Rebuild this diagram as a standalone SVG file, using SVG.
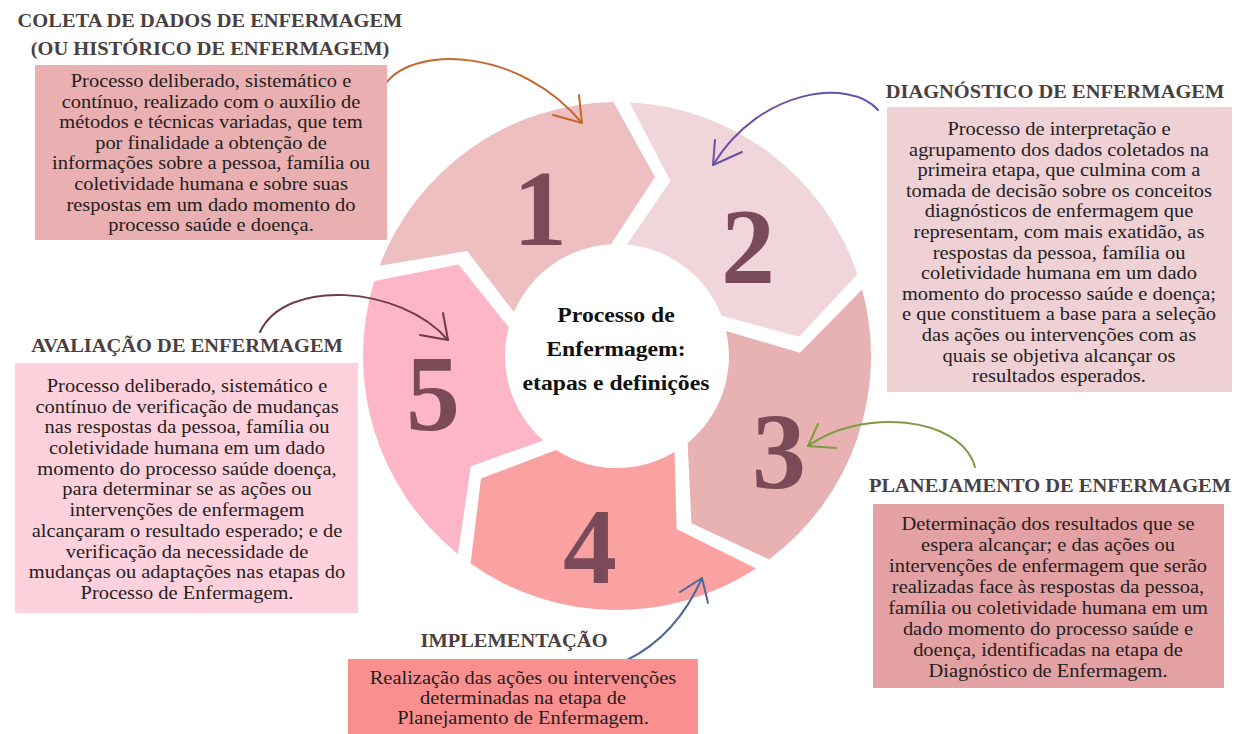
<svg xmlns="http://www.w3.org/2000/svg" width="1235" height="734" viewBox="0 0 1235 734">
<style>
.hd{font-family:"Liberation Serif","Times New Roman",serif;font-weight:bold;font-size:19px;fill:#4a403f;text-anchor:middle}
.bd{font-family:"Liberation Serif","Times New Roman",serif;font-size:19px;fill:#1e1e1e;text-anchor:middle}
.num{font-family:"Liberation Serif","Times New Roman",serif;font-weight:bold;font-size:108px;fill:#7b4a59;text-anchor:middle}
.ctr{font-family:"Liberation Serif","Times New Roman",serif;font-weight:bold;font-size:22px;fill:#111;text-anchor:middle}
.arr{fill:none;stroke-width:2;stroke-linecap:round;stroke-linejoin:round}
</style>
<defs>
<path id="seg" d="M7.98,-253.88 A254,254 0 0 1 238.98,-86.04 L181.64,-22.30 L103.78,-42.12 A112,112 0 0 0 7.99,-111.71 L50.44,-175.91 Z"/>
</defs>
<rect width="1235" height="734" fill="#ffffff"/>

<g id="wheel" transform="translate(617,356) rotate(1)">
<use id="seg1" href="#seg" transform="rotate(-72)" fill="#eebfc0"/>
<use id="seg2" href="#seg" fill="#f0d5da"/>
<use id="seg3" href="#seg" transform="rotate(72)" fill="#e8b1b2"/>
<use id="seg4" href="#seg" transform="rotate(144)" fill="#faa1a1"/>
<use id="seg5" href="#seg" transform="rotate(216)" fill="#fdb6c8"/>
</g>

<g id="numbers">
<text class="num" x="540" y="245">1</text>
<text class="num" x="748" y="283">2</text>
<text class="num" x="779" y="488">3</text>
<text class="num" x="590" y="583">4</text>
<text class="num" x="433" y="430">5</text>
</g>

<g id="center" transform="translate(616,0) scale(1.077,1)">
<text class="ctr"><tspan x="0" y="322">Processo de</tspan><tspan x="0" y="356">Enfermagem:</tspan><tspan x="0" y="390">etapas e definições</tspan></text>
</g>

<g id="connectors">
<g id="c1" stroke="#c4662e" class="arr"><path class="arr" d="M386,83 C415,45 520,48 582,123"/><path class="arr" d="M579,95 L582,123 L553,115"/></g>
<g id="c2" stroke="#6a50a7" class="arr"><path class="arr" d="M878,110 C850,78 760,88 713,165"/><path class="arr" d="M715,140 L713,165 L742,152"/></g>
<g id="c3" stroke="#6d3a4e" class="arr"><path class="arr" d="M260,332 C285,278 400,285 448,340"/><path class="arr" d="M443,313 L448,340 L420,335"/></g>
<g id="c4" stroke="#7d9b44" class="arr"><path class="arr" d="M975,467 C960,415 860,408 808,446"/><path class="arr" d="M818,424 L808,446 L836,448"/></g>
<g id="c5" stroke="#4d6894" class="arr"><path class="arr" d="M627,660 C668,640 690,605 702,578"/><path class="arr" d="M680,592 L702,578 L708,603"/></g>
</g>

<g id="node-coleta">
<rect x="35" y="65" width="352" height="175" fill="#eaafb0"/>
<g transform="translate(210,0) scale(1.077,1)">
<text class="hd"><tspan x="0" y="27">COLETA DE DADOS DE ENFERMAGEM</tspan><tspan x="0" y="55">(OU HISTÓRICO DE ENFERMAGEM)</tspan></text>
</g>
<g transform="translate(211,0) scale(1.077,1)">
<text class="bd"><tspan x="0" y="87">Processo deliberado, sistemático e</tspan><tspan x="0" y="107.6">contínuo, realizado com o auxílio de</tspan><tspan x="0" y="128.2">métodos e técnicas variadas, que tem</tspan><tspan x="0" y="148.8">por finalidade a obtenção de</tspan><tspan x="0" y="169.4">informações sobre a pessoa, família ou</tspan><tspan x="0" y="190">coletividade humana e sobre suas</tspan><tspan x="0" y="210.6">respostas em um dado momento do</tspan><tspan x="0" y="231.2">processo saúde e doença.</tspan></text>
</g>
</g>

<g id="node-diagnostico">
<rect x="887" y="107" width="345" height="285" fill="#efd0d5"/>
<g transform="translate(1055,0) scale(1.077,1)">
<text class="hd" x="0" y="98">DIAGNÓSTICO DE ENFERMAGEM</text>
</g>
<g transform="translate(1059,0) scale(1.077,1)">
<text class="bd"><tspan x="0" y="135">Processo de interpretação e</tspan><tspan x="0" y="155.6">agrupamento dos dados coletados na</tspan><tspan x="0" y="176.2">primeira etapa, que culmina com a</tspan><tspan x="0" y="196.8">tomada de decisão sobre os conceitos</tspan><tspan x="0" y="217.4">diagnósticos de enfermagem que</tspan><tspan x="0" y="238">representam, com mais exatidão, as</tspan><tspan x="0" y="258.6">respostas da pessoa, família ou</tspan><tspan x="0" y="279.2">coletividade humana em um dado</tspan><tspan x="0" y="299.8">momento do processo saúde e doença;</tspan><tspan x="0" y="320.4">e que constituem a base para a seleção</tspan><tspan x="0" y="341">das ações ou intervenções com as</tspan><tspan x="0" y="361.6">quais se objetiva alcançar os</tspan><tspan x="0" y="382.2">resultados esperados.</tspan></text>
</g>
</g>

<g id="node-planejamento">
<rect x="873" y="504" width="351" height="184" fill="#e4a1a3"/>
<g transform="translate(1050,0) scale(1.077,1)">
<text class="hd" x="0" y="492">PLANEJAMENTO DE ENFERMAGEM</text>
</g>
<g transform="translate(1048,0) scale(1.077,1)">
<text class="bd"><tspan x="0" y="530">Determinação dos resultados que se</tspan><tspan x="0" y="551">espera alcançar; e das ações ou</tspan><tspan x="0" y="572">intervenções de enfermagem que serão</tspan><tspan x="0" y="593">realizadas face às respostas da pessoa,</tspan><tspan x="0" y="614">família ou coletividade humana em um</tspan><tspan x="0" y="635">dado momento do processo saúde e</tspan><tspan x="0" y="656">doença, identificadas na etapa de</tspan><tspan x="0" y="677">Diagnóstico de Enfermagem.</tspan></text>
</g>
</g>

<g id="node-implementacao">
<rect x="348" y="659" width="350" height="75" fill="#fa8f8f"/>
<g transform="translate(514,0) scale(1.077,1)">
<text class="hd" x="0" y="647">IMPLEMENTAÇÃO</text>
</g>
<g transform="translate(523,0) scale(1.077,1)">
<text class="bd"><tspan x="0" y="684">Realização das ações ou intervenções</tspan><tspan x="0" y="704">determinadas na etapa de</tspan><tspan x="0" y="724">Planejamento de Enfermagem.</tspan></text>
</g>
</g>

<g id="node-avaliacao">
<rect x="15" y="363" width="343" height="250" fill="#ffd1dc"/>
<g transform="translate(187,0) scale(1.077,1)">
<text class="hd" x="0" y="352">AVALIAÇÃO DE ENFERMAGEM</text>
</g>
<g transform="translate(187,0) scale(1.077,1)">
<text class="bd"><tspan x="0" y="392">Processo deliberado, sistemático e</tspan><tspan x="0" y="412.7">contínuo de verificação de mudanças</tspan><tspan x="0" y="433.4">nas respostas da pessoa, família ou</tspan><tspan x="0" y="454.1">coletividade humana em um dado</tspan><tspan x="0" y="474.8">momento do processo saúde doença,</tspan><tspan x="0" y="495.5">para determinar se as ações ou</tspan><tspan x="0" y="516.2">intervenções de enfermagem</tspan><tspan x="0" y="536.9">alcançaram o resultado esperado; e de</tspan><tspan x="0" y="557.6">verificação da necessidade de</tspan><tspan x="0" y="578.3">mudanças ou adaptações nas etapas do</tspan><tspan x="0" y="599">Processo de Enfermagem.</tspan></text>
</g>
</g>
</svg>
